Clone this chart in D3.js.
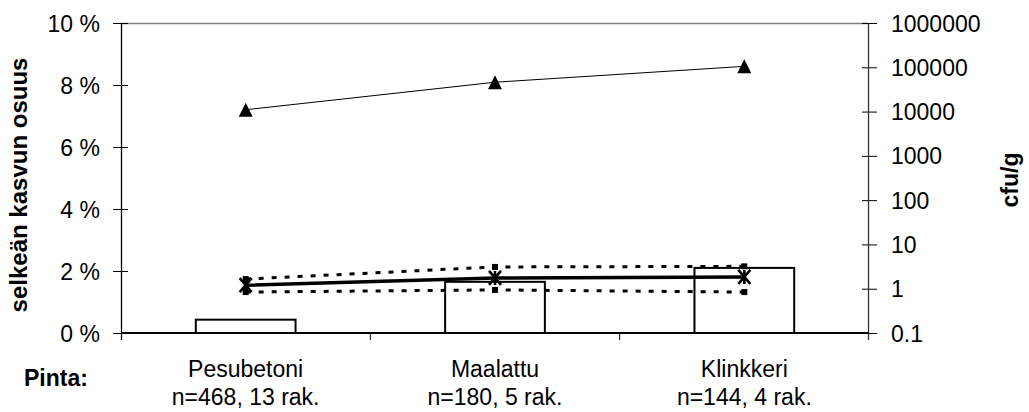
<!DOCTYPE html>
<html>
<head>
<meta charset="utf-8">
<script src="https://cdn.jsdelivr.net/npm/d3@7"></script>
<style>
  body { margin: 0; background: #fff; }
  text { font-family: "Liberation Sans", Arial, sans-serif; fill: #000; }
</style>
</head>
<body>
<div id="chart"></div>
<script>
// Surface types and sample sizes
var categories = ['Pesubetoni', 'Maalattu', 'Klinkkeri'];
var sampleInfo = ['n=468, 13 rak.', 'n=180, 5 rak.', 'n=144, 4 rak.'];

// Share of clear growth (%), bars on the left axis
var growthShare = [0.43, 1.65, 2.1];

// cfu/g values on the logarithmic right axis
var cfuMax = [11000, 46000, 105000];
var cfuMedian = [1.2, 1.75, 1.85];
var cfuUpper = [1.65, 3.1, 3.2];
var cfuLower = [0.84, 0.94, 0.84];

var leftTicks = [0, 2, 4, 6, 8, 10];
var rightTicks = [0.1, 1, 10, 100, 1000, 10000, 100000, 1000000];

var margin = { top: 23, right: 160, bottom: 79, left: 121 },
    width = 1029 - margin.left - margin.right,
    height = 412 - margin.top - margin.bottom;

var svg = d3.select('#chart')
    .append('svg')
    .attr('width', 1029)
    .attr('height', 412)
    .append('g')
    .attr('transform', 'translate(' + margin.left + ',' + margin.top + ')');

var fontSize = '23px';

// Scales
var x = d3.scaleBand()
    .domain(categories)
    .range([0, width])
    .padding(0);

var yLeft = d3.scaleLinear()
    .domain([0, 10])
    .range([height, 0]);

var yRight = d3.scaleLog()
    .domain([0.1, 1000000])
    .range([height, 0]);

var cx = function(d, i) { return x(categories[i]) + x.bandwidth() / 2; };

// Plot frame top (grey)
svg.append('line')
    .attr('x1', 0).attr('x2', width)
    .attr('y1', 0.5).attr('y2', 0.5)
    .attr('stroke', '#808080')
    .attr('stroke-width', 1.5);

// Bars
var barW = x.bandwidth() * 0.4;
svg.selectAll('.bar')
    .data(growthShare)
    .enter().append('rect')
    .attr('class', 'bar')
    .attr('x', function(d, i) { return cx(d, i) - barW / 2; })
    .attr('y', function(d) { return yLeft(d); })
    .attr('width', barW)
    .attr('height', function(d) { return height - yLeft(d); })
    .attr('fill', '#fff')
    .attr('stroke', '#000')
    .attr('stroke-width', 2);

// Left axis
var leftAxis = d3.axisLeft(yLeft)
    .tickValues(leftTicks)
    .tickSize(8)
    .tickFormat(function(d) { return d + ' %'; });

var gl = svg.append('g').call(leftAxis);
gl.select('.domain').remove();
gl.selectAll('.tick line').attr('x2', -8).attr('x1', 7).attr('stroke', '#000');
gl.selectAll('.tick text').style('font-size', fontSize).attr('dy', '0.35em')
    .attr('x', -21);
gl.append('line').attr('x1', 0.5).attr('x2', 0.5).attr('y1', 0).attr('y2', height + 7)
    .attr('stroke', '#000').attr('stroke-width', 1.3);

// Right axis
var rightAxis = d3.axisRight(yRight)
    .tickValues(rightTicks)
    .tickSize(8)
    .tickFormat(function(d) { return d < 1 ? '0.1' : d3.format('d')(d); });

var gr = svg.append('g').attr('transform', 'translate(' + width + ',0)').call(rightAxis);
gr.select('.domain').remove();
gr.selectAll('.tick line').attr('x1', -7).attr('x2', 8).attr('stroke', '#000');
gr.selectAll('.tick text').style('font-size', fontSize).attr('dy', '0.35em')
    .attr('x', 22);
gr.append('line').attr('x1', -0.5).attr('x2', -0.5).attr('y1', 0).attr('y2', height + 7)
    .attr('stroke', '#333').attr('stroke-width', 1.3);

// Bottom axis with ticks between categories
var gb = svg.append('g').attr('transform', 'translate(0,' + height + ')');
gb.append('line').attr('x1', 0).attr('x2', width).attr('y1', 0).attr('y2', 0)
    .attr('stroke', '#000').attr('stroke-width', 2);
gb.selectAll('.btick')
    .data(categories.slice(1))
    .enter().append('line')
    .attr('x1', function(d) { return x(d); })
    .attr('x2', function(d) { return x(d); })
    .attr('y1', 0).attr('y2', 7)
    .attr('stroke', '#000');

// Category labels, two lines
gb.selectAll('.cat')
    .data(categories)
    .enter().append('text')
    .attr('x', function(d, i) { return cx(d, i); })
    .attr('y', 44)
    .attr('text-anchor', 'middle')
    .style('font-size', fontSize)
    .text(function(d) { return d; });

gb.selectAll('.info')
    .data(sampleInfo)
    .enter().append('text')
    .attr('x', function(d, i) { return cx(d, i); })
    .attr('y', 72)
    .attr('text-anchor', 'middle')
    .style('font-size', fontSize)
    .text(function(d) { return d; });

gb.append('text')
    .attr('x', -97)
    .attr('y', 53)
    .style('font-size', fontSize)
    .style('font-weight', 'bold')
    .text('Pinta:');

// Axis titles
svg.append('text')
    .attr('transform', 'translate(-94,' + (height / 2 + 7) + ') rotate(-90)')
    .attr('text-anchor', 'middle')
    .style('font-size', '24px')
    .style('font-weight', 'bold')
    .text('selkeän kasvun osuus');

svg.append('text')
    .attr('transform', 'translate(' + (width + 149) + ',' + (height / 2 + 2) + ') rotate(-90)')
    .attr('text-anchor', 'middle')
    .style('font-size', fontSize)
    .style('font-weight', 'bold')
    .text('cfu/g');

// Lines
var line = d3.line()
    .x(function(d, i) { return cx(d, i); })
    .y(function(d) { return yRight(d); });

function drawDotted(data) {
    svg.append('path')
        .datum(data)
        .attr('d', line)
        .attr('fill', 'none')
        .attr('stroke', '#000')
        .attr('stroke-width', 3)
        .attr('stroke-dasharray', '5,8');
    svg.selectAll(null)
        .data(data)
        .enter().append('rect')
        .attr('x', function(d, i) { return cx(d, i) - 3; })
        .attr('y', function(d) { return yRight(d) - 3; })
        .attr('width', 6).attr('height', 6)
        .attr('fill', '#000');
}
drawDotted(cfuUpper);
drawDotted(cfuLower);

// Median line, thick with star markers
svg.append('path')
    .datum(cfuMedian)
    .attr('d', line)
    .attr('fill', 'none')
    .attr('stroke', '#000')
    .attr('stroke-width', 3.5);

svg.selectAll('.star')
    .data(cfuMedian)
    .enter().append('path')
    .attr('transform', function(d, i) { return 'translate(' + cx(d, i) + ',' + yRight(d) + ')'; })
    .attr('d', 'M-6,-7L6,7M-6,7L6,-7M0,-7L0,7')
    .attr('stroke', '#000')
    .attr('stroke-width', 2.6)
    .attr('fill', 'none');

// Max line with triangles
svg.append('path')
    .datum(cfuMax)
    .attr('d', line)
    .attr('fill', 'none')
    .attr('stroke', '#000')
    .attr('stroke-width', 1);

svg.selectAll('.tri')
    .data(cfuMax)
    .enter().append('path')
    .attr('transform', function(d, i) { return 'translate(' + cx(d, i) + ',' + yRight(d) + ')'; })
    .attr('d', 'M0,-7L7,7L-7,7Z')
    .attr('fill', '#000');
</script>
</body>
</html>
